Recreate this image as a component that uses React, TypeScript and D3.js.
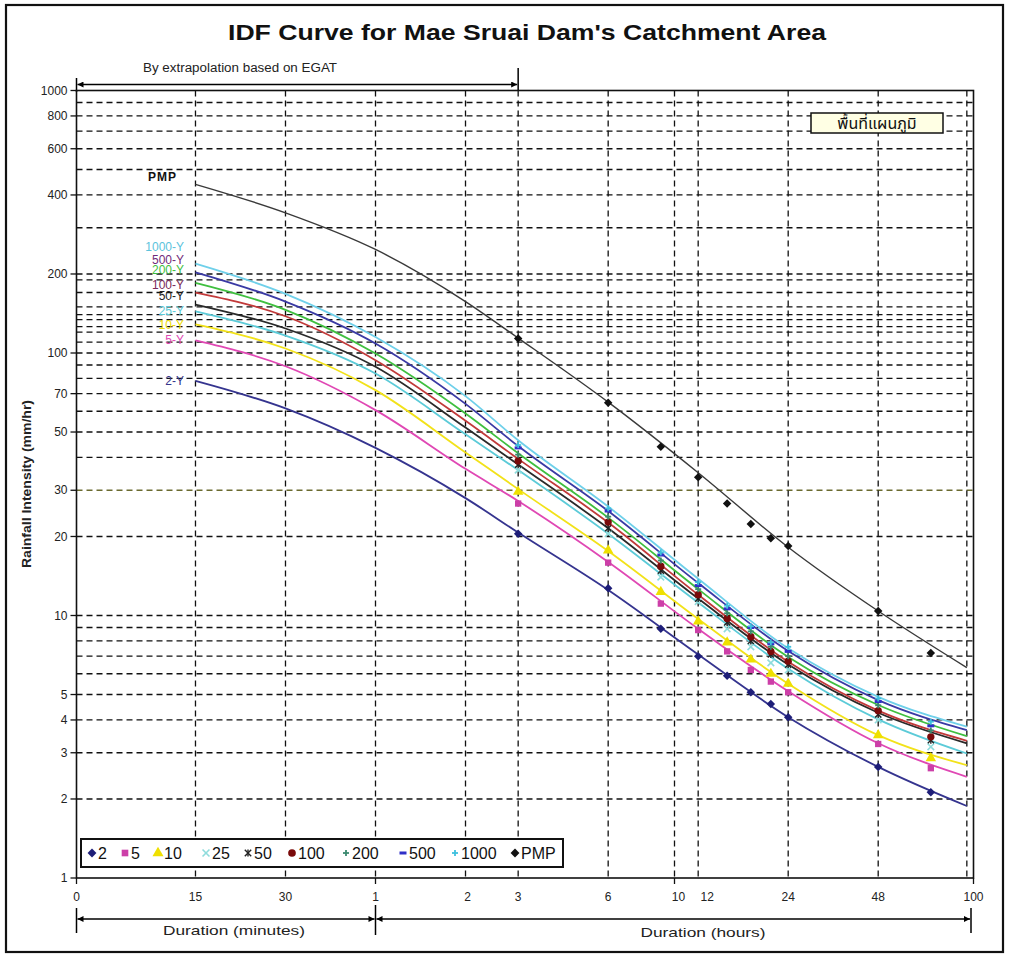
import React from 'react';
import * as d3 from 'd3';

// return periods shown in the legend
const seriesKeys = ['2', '5', '10', '25', '50', '100', '200', '500', '1000', 'PMP'];

// fitted curves (mm/hr) at these durations (hours)
const trendDurations = [0.25, 0.5, 1, 2, 3, 6, 12, 24, 48, 95];
const trend2 = [78.3, 61.5, 43.5, 28.0, 20.7, 12.5, 7.1, 4.1, 2.65, 1.88];
const trend5 = [111.6, 89.0, 60.6, 36.2, 27.3, 16.0, 8.9, 5.15, 3.26, 2.43];
const trend10 = [128.5, 104, 72.2, 41.8, 30.3, 17.6, 9.7, 5.5, 3.5, 2.69];
const trend25 = [144, 116.5, 83.5, 49, 35.8, 20.5, 11.2, 6.27, 4.02, 2.98];
const trend50 = [153, 124, 88.6, 52, 37.6, 21.5, 11.6, 6.5, 4.26, 3.26];
const trend100 = [170, 138, 93.9, 55.2, 39.5, 22.6, 12.0, 6.66, 4.34, 3.33];
const trend200 = [185, 146, 99.5, 58.8, 41.5, 23.6, 12.6, 6.95, 4.56, 3.47];
const trend500 = [203, 157, 108.7, 64, 44.2, 25.0, 13.3, 7.32, 4.76, 3.66];
const trend1000 = [219, 168, 115, 68.5, 46.5, 26.0, 13.8, 7.5, 4.9, 3.77];
const trendPMP = [439, 342, 248, 157, 114, 65, 35, 18.2, 10.4, 6.33];

// observed / extrapolated points (mm/hr) at these durations (hours)
const markerDurations = [3, 6, 9, 12, 15, 18, 21, 24, 48, 72];
const obs2 = [20.5, 12.7, 8.9, 7.0, 5.9, 5.1, 4.6, 4.1, 2.65, 2.12];
const obs5 = [26.7, 15.9, 11.1, 8.8, 7.3, 6.2, 5.6, 5.1, 3.24, 2.62];
const obs10 = [29.6, 17.7, 12.3, 9.5, 7.9, 6.8, 6.0, 5.5, 3.5, 2.86];
const obs25 = [35.8, 20.5, 14.0, 11.3, 8.9, 7.6, 6.6, 6.2, 4.0, 3.16];
const obs50 = [37.5, 21.5, 14.8, 11.6, 9.4, 8.0, 7.1, 6.5, 4.2, 3.35];
const obs100 = [38.8, 22.7, 15.4, 12.0, 9.75, 8.3, 7.3, 6.7, 4.34, 3.45];
const obs200 = [41, 23.8, 16.2, 12.6, 10.2, 8.7, 7.6, 7.0, 4.55, 3.65];
const obs500 = [43.5, 25.0, 17.0, 13.0, 10.6, 9.0, 7.8, 7.3, 4.7, 3.8];
const obs1000 = [44.6, 25.6, 17.4, 13.4, 10.9, 9.1, 7.9, 7.6, 4.83, 3.94];
const obsPMP = [113.6, 64.6, 43.9, 33.6, 26.7, 22.3, 19.7, 18.4, 10.4, 7.2];

const trends = [trend2, trend5, trend10, trend25, trend50, trend100, trend200, trend500, trend1000, trendPMP];
const observed = [obs2, obs5, obs10, obs25, obs50, obs100, obs200, obs500, obs1000, obsPMP];

// axis ticks
const yTickLabels = [1000, 800, 600, 400, 200, 100, 70, 50, 30, 20, 10, 5, 4, 3, 2, 1];
const yGridValues = [2, 3, 4, 5, 6, 7, 8, 9, 10, 20, 30, 40, 50, 60, 70, 80, 90, 100, 110, 120, 126, 134, 140, 150, 170, 190, 200, 300, 400, 500, 600, 700, 800, 900];
const xTickValues = [0.1, 0.25, 0.5, 1, 2, 3, 6, 10, 12, 24, 48, 100];
const xTickLabels = ['0', '15', '30', '1', '2', '3', '6', '10', '12', '24', '48', '100'];
const xGridValues = [0.25, 0.5, 1, 2, 3, 6, 10, 12, 24, 48, 95];
const xMajorTicks = [0.1, 1, 10, 100];

// styling
const lineColors: Record<string, string> = {
  '2': '#35348f', '5': '#e048b4', '10': '#f2e21a', '25': '#5ccbd8', '50': '#2a2a2a',
  '100': '#c23a3a', '200': '#3fbf3f', '500': '#3a3aa4', '1000': '#6fd0ea', PMP: '#3a3a3a',
};
const markerColors: Record<string, string> = {
  '2': '#1e1e78', '5': '#cc3fa8', '10': '#efe000', '25': '#8fdcdc', '50': '#222222',
  '100': '#7a0a0a', '200': '#3b8a70', '500': '#3030c8', '1000': '#3ec0de', PMP: '#111111',
};
const labelColors: Record<string, string> = {
  '2': '#34348c', '5': '#e048b4', '10': '#eedd00', '25': '#5ccbd8', '50': '#222',
  '100': '#7a2a5a', '200': '#3fbf3f', '500': '#702a7a', '1000': '#5cc3dc', PMP: '#111',
};
const curveLabelY: Record<string, number> = {
  '1000': 251, '500': 264, '200': 274, '100': 289, '50': 300, '25': 315, '10': 329, '5': 344, '2': 385,
};
const legendX = [92, 125, 158, 206, 248, 292, 346, 403, 455, 515];

const W = 1010;
const H = 954;
const plot = { left: 76.5, right: 973.5, top: 90.5, bottom: 878 };

const x = d3.scaleLog().domain([0.1, 100]).range([plot.left, plot.right]);
const y = d3.scaleLog().domain([1, 1000]).range([plot.bottom, plot.top]);

const line = d3
  .line<[number, number]>()
  .x((d) => x(d[0]))
  .y((d) => y(d[1]))
  .curve(d3.curveMonotoneX);

const symTimes = (d3 as any).symbolTimes || d3.symbolCross;

function Marker({ k, cx, cy, size = 1 }: { k: string; cx: number; cy: number; size?: number }) {
  const c = markerColors[k];
  const t = `translate(${cx},${cy})`;
  if (k === '2' || k === 'PMP') {
    return <path transform={`${t} rotate(45)`} d={d3.symbol(d3.symbolSquare, 36 * size)()!} fill={c} />;
  }
  if (k === '5') return <path transform={t} d={d3.symbol(d3.symbolSquare, 40 * size)()!} fill={c} />;
  if (k === '10') return <path transform={t} d={d3.symbol(d3.symbolTriangle, 48 * size)()!} fill={c} />;
  if (k === '100') return <path transform={t} d={d3.symbol(d3.symbolCircle, 42 * size)()!} fill={c} />;
  if (k === '25') {
    return <path transform={t} d={d3.symbol(symTimes, 30 * size)()!} fill="none" stroke={c} strokeWidth={1.6} />;
  }
  if (k === '50') {
    return (
      <g transform={t} stroke={c} strokeWidth={1.4}>
        <path d={d3.symbol(symTimes, 26 * size)()!} fill="none" />
        <line x1={0} x2={0} y1={-3.5} y2={3.5} />
      </g>
    );
  }
  if (k === '500') return <rect transform={t} x={-3.5} y={-1.5} width={7} height={3} fill={c} />;
  // 200 and 1000: plus
  return (
    <g transform={t} stroke={c} strokeWidth={1.8}>
      <line x1={-3} x2={3} y1={0} y2={0} />
      <line x1={0} x2={0} y1={-3} y2={3} />
    </g>
  );
}

export default function App() {
  const font = "'Liberation Sans', Arial, sans-serif";
  const midX = x(1);

  return (
    <svg
      width={W}
      height={H}
      style={{ position: 'absolute', left: 0, top: 0, background: '#fff' }}
      fontFamily={font}
    >
      <defs>
        <marker id="ah" viewBox="0 0 10 10" refX="10" refY="5" markerWidth="9" markerHeight="6" orient="auto-start-reverse" markerUnits="userSpaceOnUse">
          <path d="M0,0 L10,5 L0,10 z" fill="#000" />
        </marker>
      </defs>
      <rect x={0} y={0} width={W} height={H} fill="#fff" />
      <rect x={6} y={5} width={997} height={947} fill="none" stroke="#111" strokeWidth={2.2} />

      {/* title */}
      <text x={228} y={40} fontSize={22} fontWeight="bold" textLength={598} lengthAdjust="spacingAndGlyphs" fill="#111">
        IDF Curve for Mae Sruai Dam's Catchment Area
      </text>

      {/* top extrapolation arrow */}
      <text x={143} y={72} fontSize={12.5} textLength={194} lengthAdjust="spacingAndGlyphs" fill="#222">
        By extrapolation based on EGAT
      </text>
      <line x1={plot.left} x2={plot.left} y1={78} y2={92} stroke="#000" strokeWidth={1.5} />
      <line x1={x(3)} x2={x(3)} y1={68} y2={90} stroke="#000" strokeWidth={1.5} />
      <line x1={plot.left + 1} x2={x(3) - 1} y1={84.5} y2={84.5} stroke="#000" strokeWidth={1.5} markerStart="url(#ah)" markerEnd="url(#ah)" />

      {/* grid */}
      <g stroke="#111" strokeWidth={1.3} strokeDasharray="6,4">
        {yGridValues.map((v) => (
          <line key={'h' + v} x1={plot.left} x2={plot.right} y1={y(v)} y2={y(v)} stroke={v === 30 ? '#6b6b30' : '#111'} />
        ))}
        {xGridValues.map((v) => (
          <line key={'v' + v} x1={x(v)} x2={x(v)} y1={plot.top} y2={plot.bottom} />
        ))}
      </g>

      {/* plot frame */}
      <rect x={plot.left} y={plot.top} width={plot.right - plot.left} height={plot.bottom - plot.top} fill="none" stroke="#111" strokeWidth={1.6} />

      {/* y axis */}
      {yTickLabels.map((v) => (
        <g key={'yt' + v}>
          <line x1={plot.left - 6} x2={plot.left} y1={y(v)} y2={y(v)} stroke="#111" strokeWidth={1.3} />
          <text x={plot.left - 9} y={y(v)} dy="0.35em" textAnchor="end" fontSize={12} fill="#222">
            {v}
          </text>
        </g>
      ))}
      <text
        transform={`translate(31,${484}) rotate(-90)`}
        textAnchor="middle"
        fontSize={12}
        fontWeight="bold"
        textLength={168}
        lengthAdjust="spacingAndGlyphs"
        fill="#222"
      >
        Rainfall Intensity (mm/hr)
      </text>

      {/* x axis */}
      {xMajorTicks.map((v) => (
        <line key={'xm' + v} x1={x(v)} x2={x(v)} y1={plot.bottom} y2={plot.bottom + 6} stroke="#111" strokeWidth={1.3} />
      ))}
      {xTickValues.map((v, i) => (
        <text
          key={'xt' + v}
          x={x(v) + (v === 10 ? 4 : v === 12 ? 9 : v === 2 ? 2 : 0)}
          y={901}
          textAnchor="middle"
          fontSize={12}
          fill="#222"
        >
          {xTickLabels[i]}
        </text>
      ))}

      {/* bottom duration arrows */}
      <g stroke="#000" strokeWidth={1.5}>
        <line x1={plot.left} x2={plot.left} y1={908} y2={933} />
        <line x1={midX} x2={midX} y1={905} y2={935} />
        <line x1={971} x2={971} y1={908} y2={933} />
        <line x1={plot.left + 1} x2={midX - 1} y1={919} y2={919} markerStart="url(#ah)" markerEnd="url(#ah)" />
        <line x1={midX + 1} x2={970} y1={919} y2={919} markerStart="url(#ah)" markerEnd="url(#ah)" />
      </g>
      <text x={234} y={935} textAnchor="middle" fontSize={13} textLength={142} lengthAdjust="spacingAndGlyphs" fill="#222">
        Duration (minutes)
      </text>
      <text x={703} y={937} textAnchor="middle" fontSize={13} textLength={125} lengthAdjust="spacingAndGlyphs" fill="#222">
        Duration (hours)
      </text>

      {/* curves */}
      {seriesKeys.map((k, i) => (
        <path
          key={'c' + k}
          d={line(trendDurations.map((dur, j) => [dur, trends[i][j]] as [number, number]))!}
          fill="none"
          stroke={lineColors[k]}
          strokeWidth={k === 'PMP' ? 1.4 : 1.8}
        />
      ))}

      {/* markers */}
      {seriesKeys.map((k, i) => (
        <g key={'m' + k}>
          {markerDurations.map((dur, j) => (
            <Marker key={j} k={k} cx={x(dur)} cy={y(observed[i][j])} />
          ))}
        </g>
      ))}

      {/* curve labels */}
      <text x={148} y={181} fontSize={12} fontWeight="bold" fill="#111" letterSpacing={1}>
        PMP
      </text>
      {seriesKeys
        .filter((k) => k !== 'PMP')
        .map((k) => (
          <text key={'l' + k} x={184} y={curveLabelY[k]} textAnchor="end" fontSize={12} fill={labelColors[k]}>
            {k}-Y
          </text>
        ))}

      {/* Thai chart-area tag */}
      <rect x={811} y={113} width={132} height={20} fill="#ffffe4" stroke="#111" strokeWidth={1.5} />
      <text x={877} y={129} textAnchor="middle" fontSize={16} fill="#111" fontFamily="'Noto Sans Thai', 'Noto Sans', sans-serif">
        พื้นที่แผนภูมิ
      </text>

      {/* legend */}
      <rect x={81} y={839} width={482} height={28} fill="#fff" stroke="#111" strokeWidth={2} />
      {seriesKeys.map((k, i) => (
        <g key={'lg' + k}>
          <Marker k={k} cx={legendX[i]} cy={853} size={1.1} />
          <text x={legendX[i] + 6} y={853} dy="0.36em" fontSize={16} fill="#111">
            {k}
          </text>
        </g>
      ))}
    </svg>
  );
}
